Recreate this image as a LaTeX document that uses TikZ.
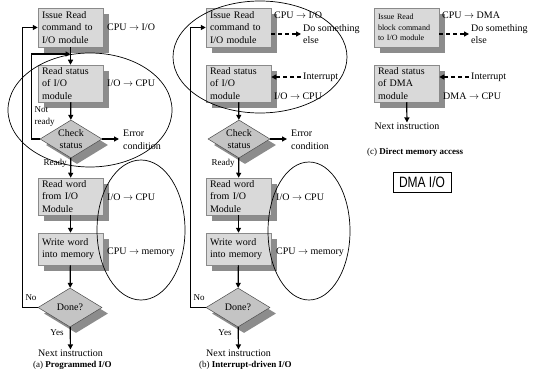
\documentclass[tikz,border=0pt]{standalone}
\usepackage{fontspec}
\usepackage{graphicx}
\setmainfont{Liberation Serif}
\newfontfamily\dmasans{Liberation Sans}
\usetikzlibrary{shapes.geometric,shadows,arrows.meta,calc}
\definecolor{boxfill}{HTML}{D9D9D9}
\definecolor{diafill}{HTML}{C4C4C4}
\definecolor{shade}{HTML}{8C8C8C}
\definecolor{edge}{HTML}{8A8A8A}
\begin{document}
\begin{tikzpicture}[x=1pt,y=-1pt,
  txt/.style={font=\fontsize{10}{12.5}\selectfont, inner sep=0pt},
  smalllab/.style={font=\fontsize{9}{12}\selectfont, inner sep=0pt},
  stepbox/.style={draw=edge, line width=0.5pt, fill=boxfill, minimum width=64pt,
    text width=57pt, align=left, inner xsep=4pt, inner ysep=1pt,
    font=\fontsize{10}{12.5}\selectfont,
    drop shadow={shadow xshift=6pt, shadow yshift=-6pt, fill=shade, opacity=1}},
  dec/.style={diamond, draw=black!70, line width=0.5pt, fill=diafill, inner sep=0pt,
    minimum width=62pt, minimum height=38pt,
    drop shadow={shadow xshift=6pt, shadow yshift=-6pt, fill=shade, opacity=1}},
  dlab/.style={font=\fontsize{10}{12}\selectfont, align=center, inner sep=0pt},
  flow/.style={line width=1.2pt, -{Triangle[length=5pt,width=5pt]}},
  dflow/.style={flow, dash pattern=on 4pt off 3pt},
  ring/.style={draw, line width=0.7pt},
  captxt/.style={font=\fontsize{9}{10}\selectfont, anchor=west, inner sep=0pt}
]
\fill[white] (0,0) rectangle (534,374);
\useasboundingbox (0,0) rectangle (534,374);

% ---------------- (a) Programmed I/O ----------------
\node[stepbox, minimum height=39pt] (a1) at (70.5,27.5) {Issue Read\\command to\\I/O module};
\node[stepbox, minimum height=37pt] (a2) at (70.5,83.5) {Read status\\of I/O\\module};
\node[dec, label={[dlab]center:Check\\status}] (a3) at (71,139) {};
\node[stepbox, minimum height=37pt] (a4) at (70.5,196.5) {Read word\\from I/O\\Module};
\node[stepbox, minimum height=32pt] (a5) at (70.5,249) {Write word\\into memory};
\node[dec, minimum width=64pt, minimum height=39pt, label={[dlab]center:Done?}] (a6) at (70,307.5) {};
\node[txt] (an) at (70.5,353) {Next instruction};
\node[captxt] (acap) at (33,365) {(a) \textbf{Programmed I/O}};

\node[txt, anchor=west] (al1) at (107,27) {CPU $\rightarrow$ I/O};
\node[txt, anchor=west] (al2) at (107,83) {I/O $\rightarrow$ CPU};
\node[txt, anchor=west, align=left] (aerr) at (123,140) {Error\\condition};
\node[smalllab, anchor=west, align=left] (anr) at (34.5,117) {Not\\ready};
\node[smalllab] (ard) at (55,163) {Ready};
\node[txt, anchor=west] (al3) at (107,197) {I/O $\rightarrow$ CPU};
\node[txt, anchor=west] (al4) at (107,252) {CPU $\rightarrow$ memory};
\node[smalllab] (ano) at (31,298) {No};
\node[smalllab] (ays) at (57,333) {Yes};

\coordinate (ajoin) at (70.5,54);
\draw[flow] (a1) -- (a2);
\draw[flow] (a2) -- (a3);
\draw[flow] (a3) -- (a4);
\draw[flow] (a4) -- (a5);
\draw[flow] (a5) -- (a6);
\draw[flow] (a6) -- (an);
\draw[flow, shorten >=4pt] (a3.east) -- (aerr.west |- a3.east);
\draw[flow] (a3.west) -- ++(-8,0) |- (ajoin);
\draw[flow] (a6.west) -- ++(-15,0) |- (a1.west);

% ---------------- (b) Interrupt-driven I/O ----------------
\node[stepbox, minimum height=39pt] (b1) at (238.5,27.5) {Issue Read\\command to\\I/O module};
\node[stepbox, minimum height=37pt] (b2) at (238.5,83.5) {Read status\\of I/O\\module};
\node[dec, label={[dlab]center:Check\\status}] (b3) at (239,139) {};
\node[stepbox, minimum height=37pt] (b4) at (238.5,196.5) {Read word\\from I/O\\Module};
\node[stepbox, minimum height=32pt] (b5) at (238.5,249) {Write word\\into memory};
\node[dec, minimum width=64pt, minimum height=39pt, label={[dlab]center:Done?}] (b6) at (238,307.5) {};
\node[txt] (bn) at (238.5,353) {Next instruction};
\node[captxt] (bcap) at (199,365) {(b) \textbf{Interrupt-driven I/O}};

\node[txt, anchor=west] (bl1) at (274,15) {CPU $\rightarrow$ I/O};
\node[txt, anchor=west, align=left] (bdo) at (303,34) {Do something\\else};
\node[txt, anchor=west] (bint) at (303,77) {Interrupt};
\node[txt, anchor=west] (bl2) at (274,96) {I/O $\rightarrow$ CPU};
\node[txt, anchor=west, align=left] (berr) at (291,140) {Error\\condition};
\node[smalllab] (brd) at (223,163) {Ready};
\node[txt, anchor=west] (bl3) at (276,197) {I/O $\rightarrow$ CPU};
\node[txt, anchor=west] (bl4) at (276,252) {CPU $\rightarrow$ memory};
\node[smalllab] (bno) at (199,298) {No};
\node[smalllab] (bys) at (225,333) {Yes};

\draw[dflow, shorten >=2pt] (b1.east |- bdo.west) -- (bdo.west);
\draw[dflow, shorten <=2pt] (bint.west) -- (b2.east |- bint.west);
\draw[flow] (b2) -- (b3);
\draw[flow] (b3) -- (b4);
\draw[flow] (b4) -- (b5);
\draw[flow] (b5) -- (b6);
\draw[flow] (b6) -- (bn);
\draw[flow, shorten >=4pt] (b3.east) -- (berr.west |- b3.east);
\draw[flow] (b6.west) -- ++(-15,0) |- (b1.west);

% ---------------- (c) Direct memory access ----------------
\node[stepbox, minimum height=39pt, font=\fontsize{8}{10.5}\selectfont] (c1) at (406.5,27.5) {Issue Read\\block command\\to I/O module};
\node[stepbox, minimum height=37pt] (c2) at (406.5,83.5) {Read status\\of DMA\\module};
\node[txt] (cn) at (407,126) {Next instruction};
\node[captxt] (ccap) at (367,152) {(c) \textbf{Direct memory access}};

\node[txt, anchor=west] (cl1) at (442,15) {CPU $\rightarrow$ DMA};
\node[txt, anchor=west, align=left] (cdo) at (471,34) {Do something\\else};
\node[txt, anchor=west] (cint) at (471,77) {Interrupt};
\node[txt, anchor=west] (cl2) at (443,96) {DMA $\rightarrow$ CPU};

\draw[dflow, shorten >=2pt] (c1.east |- cdo.west) -- (cdo.west);
\draw[dflow, shorten <=2pt] (cint.west) -- (c2.east |- cint.west);
\draw[flow] (c2) -- (cn);

\node[draw, line width=0.6pt, minimum width=58pt, minimum height=20pt, inner sep=0pt] (dma) at (422,182)
  {\dmasans\fontsize{15}{15}\selectfont\scalebox{0.8}[1]{DMA I/O}};

% ---------------- ellipses ----------------
\draw[ring] (90,110) ellipse [x radius=82pt, y radius=57pt];
\draw[ring] (141,230) ellipse [x radius=44pt, y radius=70pt];
\draw[ring] (260,57) ellipse [x radius=87pt, y radius=56pt];
\draw[ring] (309,231) ellipse [x radius=41pt, y radius=69pt];
\end{tikzpicture}
\end{document}
